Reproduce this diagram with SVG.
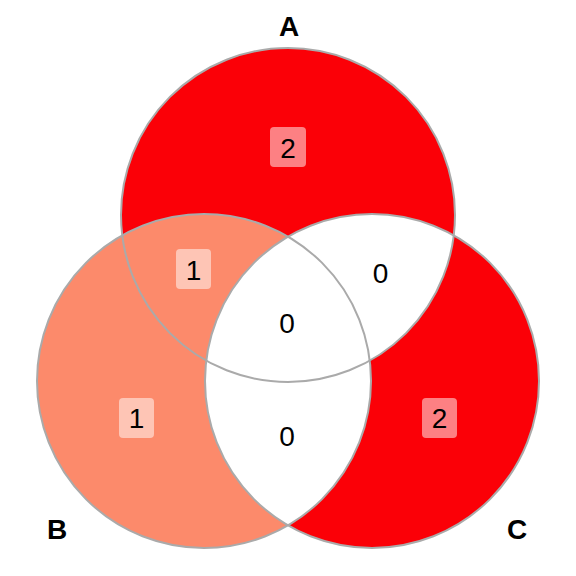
<svg xmlns="http://www.w3.org/2000/svg" width="576" height="576" viewBox="0 0 576 576">
<style>
.red{fill:#FB0007}
.sal{fill:#FC8A6B}
.wht{fill:#FFFFFF}
.edge{fill:none;stroke:#AAAAAA;stroke-width:2}
.box{fill:#FFFFFF;fill-opacity:0.5}
.num{font-family:"Liberation Sans",Arial,sans-serif;font-size:28px;fill:#000;text-anchor:middle}
.set{font-family:"Liberation Sans",Arial,sans-serif;font-size:28px;font-weight:bold;fill:#000;text-anchor:middle}
</style>
<defs>
<circle id="cA" cx="288" cy="215" r="167"/>
<circle id="cB" cx="204" cy="381" r="167"/>
<circle id="cC" cx="372" cy="381" r="167"/>
<clipPath id="clipA"><use href="#cA"/></clipPath>
<clipPath id="clipB"><use href="#cB"/></clipPath>
</defs>
<rect width="576" height="576" fill="#FFFFFF"/>
<g id="regions">
<use href="#cA" class="red"/>
<use href="#cB" class="sal"/>
<use href="#cC" class="red"/>
<use href="#cC" class="wht" clip-path="url(#clipA)"/>
<use href="#cC" class="wht" clip-path="url(#clipB)"/>
</g>
<g id="setA"><use href="#cA" class="edge"/><text class="set" x="289" y="36">A</text></g>
<g id="setB"><use href="#cB" class="edge"/><text class="set" x="57" y="539">B</text></g>
<g id="setC"><use href="#cC" class="edge"/><text class="set" x="517" y="539">C</text></g>
<g id="region-A"><rect class="box" x="270" y="127" width="36" height="40" rx="4"/><text class="num" x="288" y="158">2</text></g>
<g id="region-AB"><rect class="box" x="176" y="249" width="35" height="40" rx="4"/><text class="num" x="193.5" y="280">1</text></g>
<g id="region-B"><rect class="box" x="119" y="398" width="35" height="40" rx="4"/><text class="num" x="136.5" y="428">1</text></g>
<g id="region-C"><rect class="box" x="422" y="398" width="35" height="40" rx="4"/><text class="num" x="439.5" y="428">2</text></g>
<g id="region-AC"><text class="num" x="380.5" y="283">0</text></g>
<g id="region-ABC"><text class="num" x="287" y="333">0</text></g>
<g id="region-BC"><text class="num" x="287" y="446">0</text></g>
</svg>
